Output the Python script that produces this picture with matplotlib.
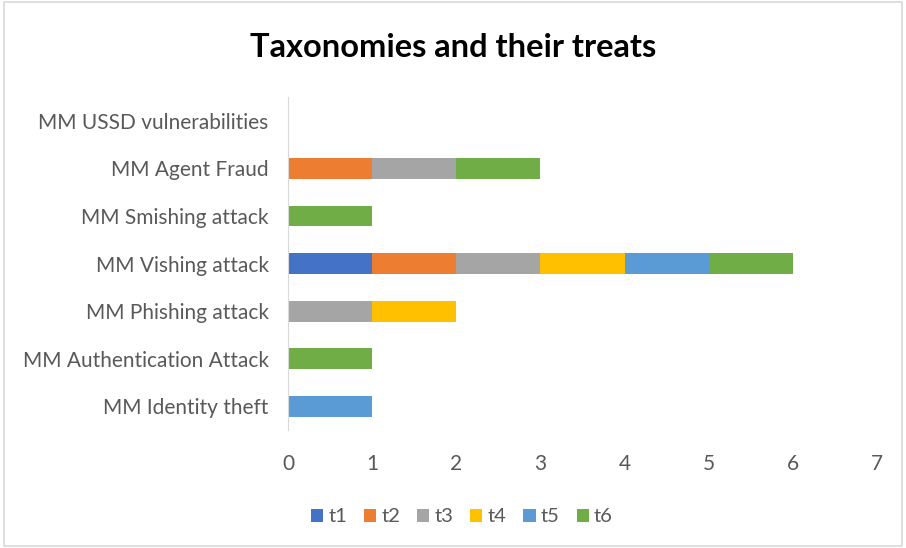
import matplotlib.pyplot as plt
import numpy as np
from matplotlib.patches import Rectangle

# data
categories = ["MM Identity theft", "MM Authentication Attack", "MM Phishing attack",
              "MM Vishing attack", "MM Smishing attack", "MM Agent Fraud",
              "MM USSD vulnerabilities"]
series = ["t1", "t2", "t3", "t4", "t5", "t6"]
t1 = [0, 0, 0, 1, 0, 0, 0]
t2 = [0, 0, 0, 1, 0, 1, 0]
t3 = [0, 0, 1, 1, 0, 1, 0]
t4 = [0, 0, 1, 1, 0, 0, 0]
t5 = [1, 0, 0, 1, 0, 0, 0]
t6 = [0, 1, 0, 1, 1, 1, 0]
colors = ["#4472C4", "#ED7D31", "#A5A5A5", "#FFC000", "#5B9BD5", "#70AD47"]

plt.rcParams['font.family'] = ['Lato', 'DejaVu Sans']

fig = plt.figure(figsize=(9.06, 5.48), dpi=100)
ax = fig.add_axes([0.318, 0.215, 0.650, 0.608])

y = np.arange(len(categories))
left = np.zeros(len(categories))
for name, vals, c in zip(series, [t1, t2, t3, t4, t5, t6], colors):
    ax.barh(y, vals, left=left, height=0.44, color=c, label=name)
    left += np.array(vals)

ax.set_xlim(0, 7)
ax.set_ylim(-0.5, len(categories) - 0.5)
ax.set_yticks(y)
ax.set_yticklabels(categories)
ax.set_xticks(range(0, 8))
ax.tick_params(length=0, labelsize=15, colors="#595959", pad=14)
ax.tick_params(axis='x', pad=17)
for s in ["top", "right", "bottom"]:
    ax.spines[s].set_visible(False)
ax.spines["left"].set_color("#D9D9D9")

fig.suptitle("Taxonomies and their treats", y=0.94, fontsize=23.5, fontweight="bold",
             color="black")

ax.legend(loc="upper center", bbox_to_anchor=(0.295, -0.18), ncol=6, frameon=False,
          fontsize=14.5, handlelength=0.6, handleheight=0.6, handletextpad=0.25,
          columnspacing=0.85, labelcolor="#595959")

fig.patches.append(Rectangle((0.004, 0.004), 0.992, 0.992, transform=fig.transFigure,
                             fill=False, edgecolor="#D9D9D9", linewidth=1.2))

fig.savefig("out.png", dpi=100)
